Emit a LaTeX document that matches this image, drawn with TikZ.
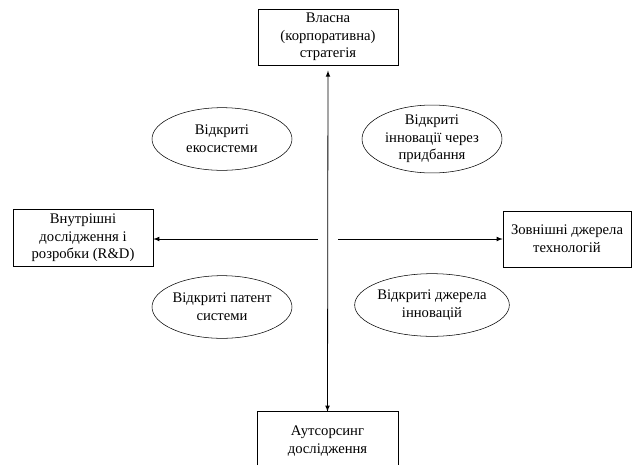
\documentclass[tikz,border=0pt]{standalone}
\usepackage{fontspec}
\setmainfont{Liberation Serif}
\usetikzlibrary{shapes, arrows, positioning}

\begin{document}
\begin{tikzpicture}[x=0.75pt, y=-0.75pt]
        \tikzset{
            strat_box/.style={rectangle, draw=black, thin, minimum width=105pt, minimum height=42pt, inner sep=1pt, align=center, font=\fontsize{11}{13.2}\selectfont},
            model_oval/.style={ellipse, draw=black, thin, minimum width=105pt, minimum height=47pt, inner sep=0pt, align=center, font=\fontsize{11}{13.2}\selectfont},
            axis_arrow/.style={-latex, semithick}
        }
        \useasboundingbox (0,0) rectangle (633,465);

        \node[strat_box] (b1) at (328,37) {Власна\\(корпоративна)\\стратегія};
        \node[strat_box, minimum height=43pt] (b2) at (83,238) {Внутрішні\\дослідження і\\розробки (R\&D)};
        \node[strat_box, minimum width=96pt] (b3) at (567,239) {Зовнішні джерела\\технологій};
        \node[strat_box, draw=none, minimum height=43.5pt] (b4) at (327.5,441) {Аутсорсинг\\дослідження};
        \draw[thin] (b4.north west |- 0,465) -- (b4.north west) -- (b4.north east) -- (b4.north east |- 0,465);

        \node[model_oval] (e1) at (222,139) {Відкриті\\екосистеми};
        \node[model_oval, minimum height=50pt] (e2) at (432,139) {Відкриті\\інновації через\\придбання};
        \node[model_oval] (e3) at (222,307) {Відкриті патент\\системи};
        \node[model_oval] (e4) at (432,305) {Відкриті джерела\\інновацій};

        \coordinate (cl) at (318,239);
        \coordinate (cr) at (338,239);
        \draw[latex-latex, semithick, shorten <=4pt] (b1.south) -- (b4.north);
        \draw[axis_arrow] (cl) -- (cl -| b2.east);
        \draw[axis_arrow] (cr) -- (cr -| b3.west);

    \end{tikzpicture}
\end{document}
